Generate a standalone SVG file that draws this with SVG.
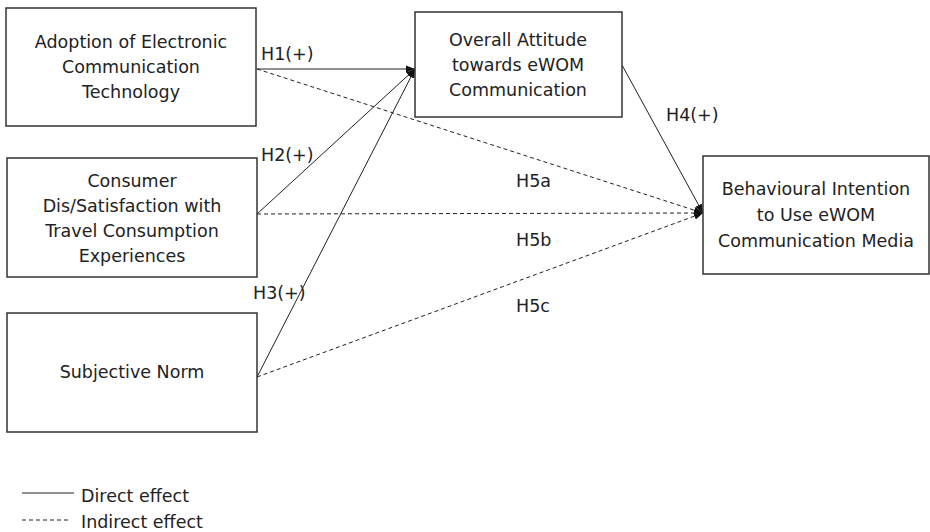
<svg xmlns="http://www.w3.org/2000/svg" width="930" height="532" viewBox="0 0 930 532">
<style>
.box{fill:#fff;stroke:#333;stroke-width:1.5}
text{font-family:"DejaVu Sans","Liberation Sans",sans-serif;font-size:17.5px;fill:#222}
.c{text-anchor:middle}
.ln{stroke:#222;stroke-width:1;fill:none}
.d{stroke-dasharray:4,3}
</style>
<defs>
<marker id="ah" viewBox="0 0 10 10" refX="10" refY="5" markerWidth="9" markerHeight="9" markerUnits="userSpaceOnUse" orient="auto">
<path d="M0,1 L10,5 L0,9 z" fill="#111"/>
</marker>
</defs>
<g id="connectors">
<line class="ln" x1="257" y1="69" x2="415" y2="69" marker-end="url(#ah)"/>
<line class="ln" x1="257" y1="214" x2="415" y2="69" marker-end="url(#ah)"/>
<line class="ln" x1="257" y1="377" x2="415" y2="69" marker-end="url(#ah)"/>
<line class="ln" x1="622" y1="65" x2="703" y2="213" marker-end="url(#ah)"/>
<line class="ln d" x1="257" y1="69" x2="703" y2="213" marker-end="url(#ah)"/>
<line class="ln d" x1="257" y1="214" x2="703" y2="213" marker-end="url(#ah)"/>
<line class="ln d" x1="257" y1="377" x2="703" y2="213" marker-end="url(#ah)"/>
<text x="261" y="60">H1(+)</text>
<text x="261" y="161">H2(+)</text>
<text x="253" y="299">H3(+)</text>
<text x="666" y="121">H4(+)</text>
<text x="516" y="187">H5a</text>
<text x="516" y="246">H5b</text>
<text x="516" y="312">H5c</text>
</g>
<g id="adoption">
<rect class="box" x="6" y="8" width="250" height="118"/>
<text class="c" x="131" y="48">Adoption of Electronic</text>
<text class="c" x="131" y="73">Communication</text>
<text class="c" x="131" y="98">Technology</text>
</g>
<g id="consumer">
<rect class="box" x="7" y="158" width="250" height="119"/>
<text class="c" x="132" y="187">Consumer</text>
<text class="c" x="132" y="212">Dis/Satisfaction with</text>
<text class="c" x="132" y="237">Travel Consumption</text>
<text class="c" x="132" y="262">Experiences</text>
</g>
<g id="subjective">
<rect class="box" x="7" y="313" width="250" height="119"/>
<text class="c" x="132" y="378">Subjective Norm</text>
</g>
<g id="attitude">
<rect class="box" x="415" y="12" width="207" height="105"/>
<text class="c" x="518" y="46">Overall Attitude</text>
<text class="c" x="518" y="71">towards eWOM</text>
<text class="c" x="518" y="96">Communication</text>
</g>
<g id="intention">
<rect class="box" x="703" y="156" width="226" height="118"/>
<text class="c" x="816" y="195">Behavioural Intention</text>
<text class="c" x="816" y="221">to Use eWOM</text>
<text class="c" x="816" y="247">Communication Media</text>
</g>
<g id="legend">
<line class="ln" x1="22" y1="493" x2="74" y2="493"/>
<text x="81" y="502">Direct effect</text>
<line class="ln d" x1="22" y1="520" x2="70" y2="520"/>
<text x="81" y="528">Indirect effect</text>
</g>
</svg>
